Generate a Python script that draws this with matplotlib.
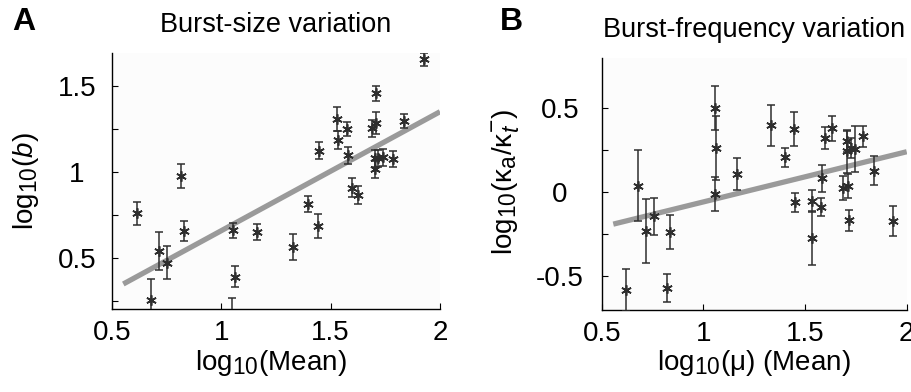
import numpy as np
import matplotlib
matplotlib.use('Agg')
import matplotlib.pyplot as plt
import matplotlib._mathtext as _mt

# larger sub/superscripts, as in the reference
_mt.SHRINK_FACTOR = 0.82

plt.rcParams['font.family'] = ['Liberation Sans', 'DejaVu Sans']
plt.rcParams['mathtext.fontset'] = 'custom'
plt.rcParams['mathtext.rm'] = 'Liberation Sans'
plt.rcParams['mathtext.it'] = 'Liberation Sans:italic'
plt.rcParams['mathtext.bf'] = 'Liberation Sans:bold'

# ---------------- data ----------------
# Panel A: burst-size variation
mean_a = [0.614, 0.680, 0.716, 0.751, 0.815, 0.832, 1.050, 1.056, 1.062, 1.162,
          1.330, 1.399, 1.444, 1.447, 1.528, 1.535, 1.574, 1.581, 1.599, 1.627,
          1.688, 1.703, 1.703, 1.706, 1.708, 1.715, 1.741, 1.784, 1.835, 1.927]
logb = [0.761, 0.258, 0.544, 0.475, 0.980, 0.659, 0.170, 0.662, 0.394, 0.651,
        0.564, 0.815, 0.690, 1.125, 1.309, 1.187, 1.250, 1.098, 0.910, 0.867,
        1.254, 1.016, 1.080, 1.287, 1.457, 1.080, 1.086, 1.076, 1.297, 1.655]
logb_err = [0.065, 0.120, 0.110, 0.097, 0.070, 0.056, 0.100, 0.046, 0.062, 0.047,
            0.076, 0.047, 0.070, 0.048, 0.068, 0.051, 0.039, 0.051, 0.055, 0.051,
            0.050, 0.048, 0.050, 0.065, 0.043, 0.050, 0.050, 0.045, 0.039, 0.036]
fit_a_slope, fit_a_icpt = 0.691, -0.031
fit_a_range = [0.553, 2.0]

# Panel B: burst-frequency variation
mean_b = [0.618, 0.680, 0.718, 0.756, 0.820, 0.836, 1.057, 1.061, 1.057, 1.166,
          1.333, 1.402, 1.448, 1.451, 1.533, 1.536, 1.579, 1.582, 1.600, 1.631,
          1.689, 1.705, 1.708, 1.713, 1.715, 1.726, 1.746, 1.787, 1.838, 1.933]
logk = [-0.582, 0.036, -0.230, -0.145, -0.572, -0.240, 0.497, 0.259, -0.014, 0.107,
        0.394, 0.204, 0.374, -0.063, -0.275, -0.053, -0.091, 0.081, 0.319, 0.378,
        0.022, 0.299, 0.240, 0.036, -0.170, 0.260, 0.253, 0.329, 0.125, -0.172]
logk_err = [0.123, 0.210, 0.190, 0.110, 0.083, 0.100, 0.130, 0.190, 0.100, 0.095,
            0.120, 0.055, 0.100, 0.055, 0.160, 0.065, 0.055, 0.080, 0.065, 0.075,
            0.070, 0.060, 0.130, 0.070, 0.060, 0.060, 0.135, 0.060, 0.085, 0.090]
fit_b_slope, fit_b_icpt = 0.298, -0.358
fit_b_range = [0.557, 2.0]

xticks = [0.5, 1, 1.5, 2]
xticklabels = ['0.5', '1', '1.5', '2']
yticks_a = [0.25, 0.5, 0.75, 1.0, 1.25, 1.5]
yticklabels_a = ['', '0.5', '', '1', '', '1.5']
yticks_b = [-0.5, -0.25, 0, 0.25, 0.5]
yticklabels_b = ['-0.5', '', '0', '', '0.5']

# ---------------- figure ----------------
W, H = 912, 392
fig = plt.figure(figsize=(W / 100, H / 100), dpi=100)

def px_axes(l, t, r, b):
    return [l / W, 1 - b / H, (r - l) / W, (b - t) / H]

axA = fig.add_axes(px_axes(111.7, 53.3, 440.0, 309.0))
axB = fig.add_axes(px_axes(601.7, 58.3, 906.7, 310.0))

FS_TICK = 20
FS_LAB = 20
FS_TITLE = 19.5
mk_color = '#2e2e2e'
line_color = '#9a9a9a'

def style(ax, yticks, ylabels, ypad):
    ax.set_facecolor('#fcfcfc')
    for s in ['top', 'right']:
        ax.spines[s].set_visible(False)
    for s in ['left', 'bottom']:
        ax.spines[s].set_linewidth(1.0)
    ax.set_xticks(xticks)
    ax.set_xticklabels(xticklabels, fontsize=FS_TICK)
    ax.set_yticks(yticks)
    ax.set_yticklabels(ylabels, fontsize=FS_TICK, ha='center')
    ax.tick_params(direction='in', length=4, width=0.8)
    ax.tick_params(axis='x', pad=8)
    ax.tick_params(axis='y', pad=ypad)

def draw(ax, x, y, e, slope, icpt, xr):
    xr = np.array(xr)
    ax.plot(xr, slope * xr + icpt, color=line_color, lw=3.8, solid_capstyle='butt', zorder=2)
    ax.errorbar(x, y, yerr=e, fmt='none', ecolor=mk_color, elinewidth=1.1,
                capsize=2.7, capthick=1.1, zorder=3)
    ax.plot(x, y, linestyle='none', marker=(6, 2, 0), markersize=7.5,
            markeredgewidth=1.2, color=mk_color, zorder=4)

draw(axA, mean_a, logb, logb_err, fit_a_slope, fit_a_icpt, fit_a_range)
axA.set_xlim(0.5, 2.0)
axA.set_ylim(0.206, 1.69)
style(axA, yticks_a, yticklabels_a, 25)

draw(axB, mean_b, logk, logk_err, fit_b_slope, fit_b_icpt, fit_b_range)
axB.set_xlim(0.5, 2.0)
axB.set_ylim(-0.702, 0.793)
style(axB, yticks_b, yticklabels_b, 30)

# axis labels
fig.text(270.8 / W, 1 - 370 / H, r'log$_{10}$(Mean)', fontsize=FS_LAB, ha='center', va='baseline')
fig.text(754 / W, 1 - 370 / H, r'log$_{10}$(μ) (Mean)', fontsize=FS_LAB, ha='center', va='baseline')
fig.text(26 / W, 1 - 181 / H, r'log$_{10}$($b$)', fontsize=FS_LAB, ha='center', va='center', rotation=90)
fig.text(506 / W, 1 - 182 / H, r'log$_{10}$(κ$_{\mathrm{a}}$/κ$_{t}^{-}$)', fontsize=FS_LAB,
         ha='center', va='center', rotation=90)

# titles
fig.text(275.9 / W, 1 - 31.7 / H, 'Burst-size variation', fontsize=FS_TITLE, ha='center', va='baseline')
fig.text(754.2 / W, 1 - 36.7 / H, 'Burst-frequency variation', fontsize=FS_TITLE, ha='center', va='baseline')

# panel letters
fig.text(12 / W, 1 - 30 / H, 'A', fontsize=23, fontweight='bold', ha='left', va='baseline')
fig.text(500 / W, 1 - 30 / H, 'B', fontsize=23, fontweight='bold', ha='left', va='baseline')

fig.savefig('out.png', dpi=100, facecolor='white')
